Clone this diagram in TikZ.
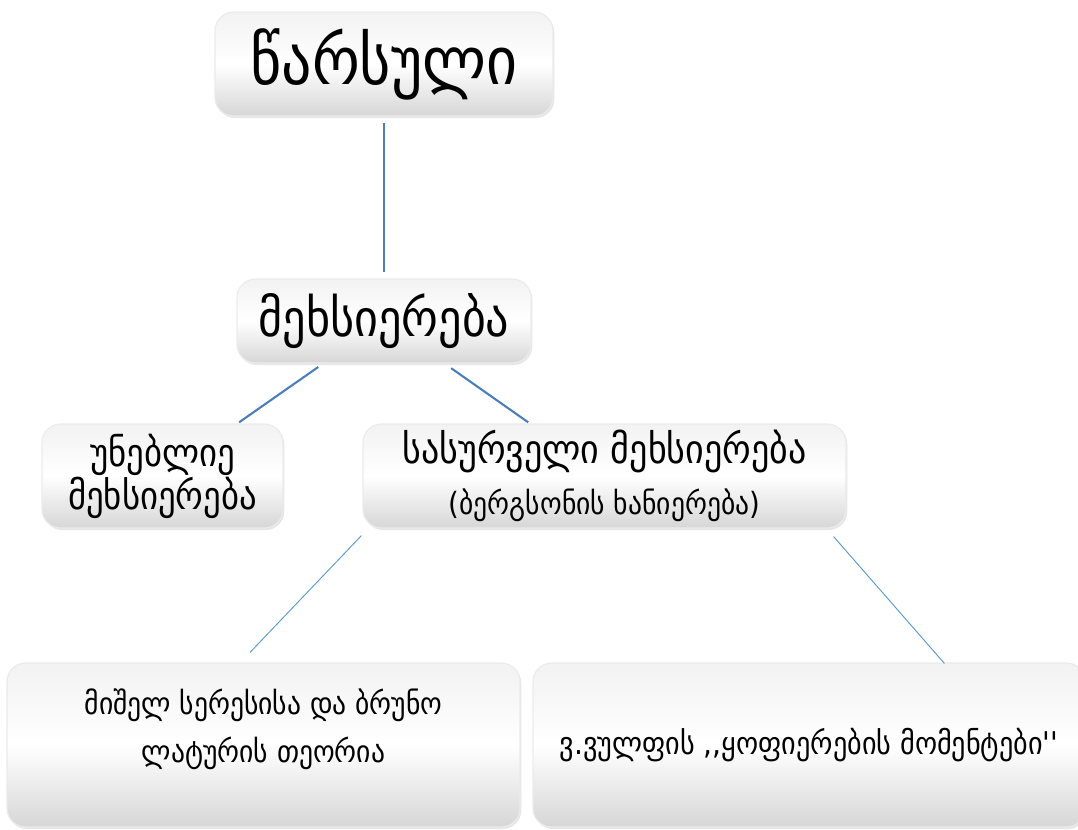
\documentclass[tikz,border=0pt]{standalone}
\usepackage{fontspec}
\newfontfamily\geofont{DejaVu Sans Condensed}
\usetikzlibrary{calc,shadows}
\definecolor{linkblue}{RGB}{74,126,187}
\definecolor{thinblue}{RGB}{91,155,213}
\tikzset{
	mbox/.style={draw=black!8, line width=0.3mm, rounded corners=14pt,
		top color=black!5, bottom color=black!16, middle color=white,
		drop shadow={opacity=0.2, shadow xshift=1pt, shadow yshift=-1.5pt},
		font=\geofont, align=center, inner sep=0pt},
	mtext/.style={font=\geofont, align=center, inner sep=0pt},
	thick link/.style={line width=0.55mm, color=linkblue},
	thin link/.style={line width=0.25mm, color=thinblue}
}

\begin{document}
\begin{tikzpicture}[x=0.75pt, y=-0.75pt]
		%%%%% START %%%%%
		\useasboundingbox (0, 0) rectangle (1078, 829);
		
		\node[mbox, minimum width=253.5pt, minimum height=78pt, font=\geofont\fontsize{50}{60}\selectfont] (past) at (384, 64) {წარსული};
		\node[mbox, minimum width=220.5pt, minimum height=63pt, font=\geofont\fontsize{38.5}{46}\selectfont] (mem) at (384, 321) {მეხსიერება};
		
		\node[mbox, minimum width=180.75pt, minimum height=78pt, font=\geofont\fontsize{29}{29}\selectfont] (invol) at (162.5, 476) {უნებლიე\\მეხსიერება};
		\node[mbox, minimum width=362.25pt, minimum height=78pt, font=\geofont\fontsize{30}{34}\selectfont] (vol) at (604.5, 476) {სასურველი მეხსიერება\\[4pt]{\fontsize{23}{26}\selectfont(ბერგსონის ხანიერება)}};
		
		\node[mbox, minimum width=384.75pt, minimum height=123pt] (serres) at (263.5, 745) {};
		\node[mtext, font=\geofont\fontsize{23}{36}\selectfont] (serrestext) at ($(serres.center)+(0, -16)$) {მიშელ სერესისა და ბრუნო\\ლატურის თეორია};
		\node[mbox, minimum width=414pt, minimum height=123pt, font=\geofont\fontsize{23.5}{28}\selectfont] (woolf) at (809, 745) {ვ.ვულფის ,,ყოფიერების მომენტები''};
		
		\coordinate (serresend) at ($(serres.north)+(-13.5, -10)$);
		\coordinate (woolfend) at ($(woolf.north west)+(412, 1)$);
		
		\draw[thick link, shorten <=5pt, shorten >=5pt] (past) -- (mem);
		\draw[thick link, shorten <=4.5pt, shorten >=1.5pt] (mem) -- (invol);
		\draw[thick link, shorten <=6pt, shorten >=1.5pt] (mem) -- (vol);
		
		\draw[thin link] ($(vol.south west)+(-1, 7)$) -- (serresend);
		\draw[thin link] ($(vol.south east)+(-13, 8)$) -- (woolfend);
		%%%%% END %%%%%
\end{tikzpicture}
\end{document}
